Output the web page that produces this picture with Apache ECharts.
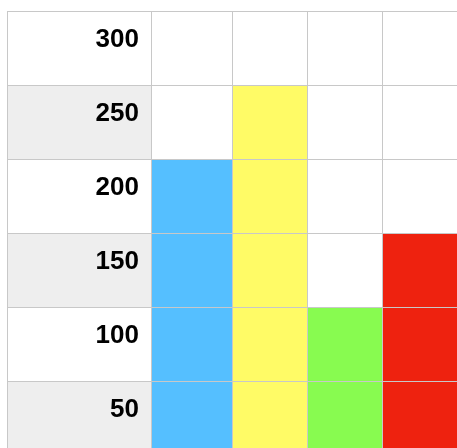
<!DOCTYPE html>
<html>
<head>
<meta charset="utf-8">
<script src="https://cdn.jsdelivr.net/npm/echarts@6/dist/echarts.min.js"></script>
<style>
  html, body { margin: 0; padding: 0; background: #fff; }
  #chart { width: 457px; height: 448px; }
</style>
</head>
<body>
<div id="chart"></div>
<script>
// chart data
const categories = ['A', 'B', 'C', 'D'];
const values = [200, 250, 100, 150];
const barColors = ['#55bfff', '#fffb66', '#88fb50', '#ee220f'];
const yTicks = [0, 50, 100, 150, 200, 250, 300];

const lineColor = '#c8c8c8';
const yMin = yTicks[0];
const yMax = yTicks[yTicks.length - 1];
const yStep = yTicks[1] - yTicks[0];

const chart = echarts.init(document.getElementById('chart'), null, { renderer: 'canvas' });

function valueY(labels, splitArea) {
    return {
        type: 'value',
        min: yMin,
        max: yMax,
        interval: yStep,
        position: 'right',
        z: 5,
        axisLine: { show: false },
        axisTick: { show: false },
        axisLabel: labels ? {
            show: true,
            inside: true,
            margin: 12,
            showMinLabel: false,
            verticalAlign: 'top',
            lineHeight: 57,
            color: '#000',
            fontSize: 26,
            fontWeight: 'bold',
            fontFamily: 'Liberation Sans, Arial, sans-serif'
        } : { show: false },
        splitLine: { show: true, lineStyle: { color: lineColor, width: 1 } },
        splitArea: splitArea ? { show: true, areaStyle: { color: ['#eeeeee', '#ffffff'] } } : { show: false }
    };
}

function catX(gridIndex, cats) {
    return {
        type: 'category',
        gridIndex: gridIndex,
        data: cats,
        boundaryGap: true,
        z: 5,
        axisLine: { show: false },
        axisTick: { show: false },
        axisLabel: { show: false },
        splitLine: { show: true, interval: 0, lineStyle: { color: lineColor, width: 1 } }
    };
}

const option = {
    backgroundColor: '#ffffff',
    animation: false,
    grid: [
        { left: 7, top: 11, width: 144, height: 444, outerBoundsMode: 'none' },   // label column
        { left: 151, top: 11, width: 81, height: 444, outerBoundsMode: 'none' },  // first bar
        { left: 232, top: 11, width: 226, height: 444, outerBoundsMode: 'none' }  // remaining bars
    ],
    xAxis: [
        {
            type: 'value', gridIndex: 0, min: 0, max: 1, interval: 1, z: 5,
            axisLine: { show: false }, axisTick: { show: false }, axisLabel: { show: false },
            splitLine: { show: true, lineStyle: { color: lineColor, width: 1 } }
        },
        catX(1, categories.slice(0, 1)),
        catX(2, categories.slice(1))
    ],
    yAxis: [
        Object.assign(valueY(true, true), { gridIndex: 0 }),
        Object.assign(valueY(false, false), { gridIndex: 1 }),
        Object.assign(valueY(false, false), { gridIndex: 2 })
    ],
    series: [
        {
            type: 'bar',
            xAxisIndex: 1,
            yAxisIndex: 1,
            barWidth: '100%',
            data: values.slice(0, 1).map((v, i) => ({ value: v, itemStyle: { color: barColors[i] } }))
        },
        {
            type: 'bar',
            xAxisIndex: 2,
            yAxisIndex: 2,
            barWidth: '100%',
            data: values.slice(1).map((v, i) => ({ value: v, itemStyle: { color: barColors[i + 1] } }))
        }
    ]
};

chart.setOption(option);
</script>
</body>
</html>
